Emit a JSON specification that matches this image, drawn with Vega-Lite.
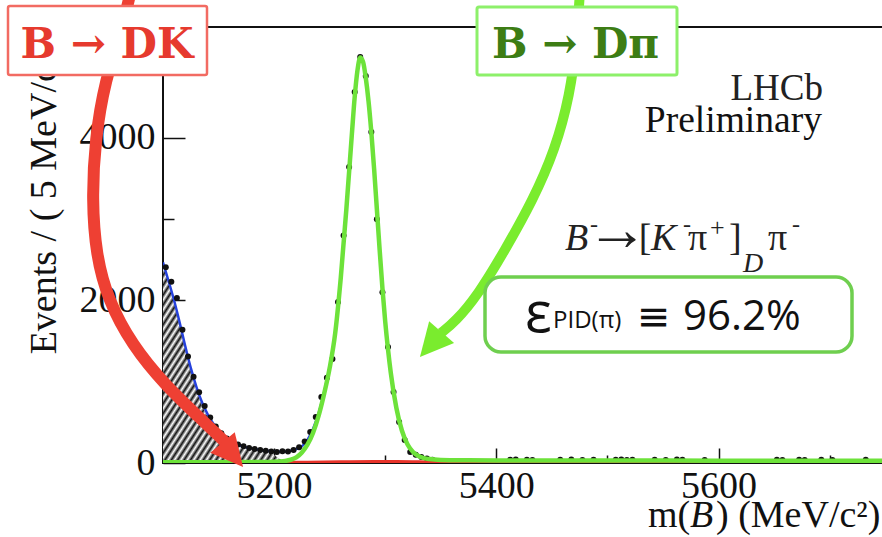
{
"$schema": "https://vega.github.io/schema/vega-lite/v6.json",
"width": 720, "height": 436,
"autosize": "none",
"padding": {"left": 163, "top": 27, "right": 0, "bottom": 74},
"background": "white",
"config": {"view": {"stroke": "#111", "strokeWidth": 2}, "font": "Liberation Serif"},
"datasets": {
"pts": [
{"m":5102.5,"v":2410},{"m":5107.5,"v":2230},{"m":5112.5,"v":2030},{"m":5117.5,"v":1640},{"m":5122.5,"v":1310},{"m":5127.5,"v":1060},{"m":5132.5,"v":870},{"m":5137.5,"v":700},{"m":5142.5,"v":560},{"m":5147.5,"v":450},{"m":5152.5,"v":365},{"m":5157.5,"v":300},{"m":5162.5,"v":255},{"m":5167.5,"v":228},{"m":5172.5,"v":205},{"m":5177.5,"v":185},{"m":5182.5,"v":172},{"m":5187.5,"v":160},{"m":5192.5,"v":150},{"m":5197.5,"v":142},{"m":5202.5,"v":135},{"m":5207.5,"v":145},{"m":5212.5,"v":140},{"m":5217.5,"v":160},{"m":5222.5,"v":195},{"m":5227.5,"v":265},{"m":5232.5,"v":382},{"m":5237.5,"v":566},{"m":5242.5,"v":812},{"m":5247.5,"v":1050},{"m":5252.5,"v":1280},{"m":5257.5,"v":1982},{"m":5262.5,"v":2800},{"m":5267.5,"v":3643},{"m":5272.5,"v":4566},{"m":5277.5,"v":4997},{"m":5282.5,"v":4763},{"m":5287.5,"v":4074},{"m":5292.5,"v":3000},{"m":5297.5,"v":2100},{"m":5302.5,"v":1428},{"m":5307.5,"v":874},{"m":5312.5,"v":505},{"m":5317.5,"v":283},{"m":5322.5,"v":135},{"m":5327.5,"v":100},{"m":5332.5,"v":74},{"m":5337.5,"v":55},{"m":5342.5,"v":40},{"m":5347.5,"v":8},{"m":5352.5,"v":6},{"m":5357.5,"v":10},{"m":5362.5,"v":5},{"m":5367.5,"v":8},{"m":5372.5,"v":7},{"m":5377.5,"v":9},{"m":5382.5,"v":6},{"m":5387.5,"v":5},{"m":5392.5,"v":8},{"m":5397.5,"v":7},{"m":5402.5,"v":6},{"m":5407.5,"v":9},{"m":5412.5,"v":40},{"m":5417.5,"v":42},{"m":5422.5,"v":8},{"m":5427.5,"v":40},{"m":5432.5,"v":38},{"m":5437.5,"v":6},{"m":5442.5,"v":8},{"m":5447.5,"v":5},{"m":5452.5,"v":9},{"m":5457.5,"v":40},{"m":5462.5,"v":7},{"m":5467.5,"v":42},{"m":5472.5,"v":8},{"m":5477.5,"v":38},{"m":5482.5,"v":6},{"m":5487.5,"v":40},{"m":5492.5,"v":7},{"m":5497.5,"v":8},{"m":5502.5,"v":7},{"m":5507.5,"v":40},{"m":5512.5,"v":42},{"m":5517.5,"v":38},{"m":5522.5,"v":40},{"m":5527.5,"v":6},{"m":5532.5,"v":8},{"m":5537.5,"v":5},{"m":5542.5,"v":40},{"m":5547.5,"v":7},{"m":5552.5,"v":38},{"m":5557.5,"v":6},{"m":5562.5,"v":42},{"m":5567.5,"v":40},{"m":5572.5,"v":8},{"m":5577.5,"v":5},{"m":5582.5,"v":7},{"m":5587.5,"v":38},{"m":5592.5,"v":6},{"m":5597.5,"v":8},{"m":5602.5,"v":5},{"m":5607.5,"v":7},{"m":5612.5,"v":6},{"m":5617.5,"v":8},{"m":5622.5,"v":5},{"m":5627.5,"v":7},{"m":5632.5,"v":6},{"m":5637.5,"v":9},{"m":5642.5,"v":5},{"m":5647.5,"v":7},{"m":5652.5,"v":40},{"m":5657.5,"v":38},{"m":5662.5,"v":6},{"m":5667.5,"v":8},{"m":5672.5,"v":40},{"m":5677.5,"v":38},{"m":5682.5,"v":7},{"m":5687.5,"v":5},{"m":5692.5,"v":40},{"m":5697.5,"v":8},{"m":5702.5,"v":38},{"m":5707.5,"v":6},{"m":5712.5,"v":7},{"m":5717.5,"v":5},{"m":5722.5,"v":8},{"m":5727.5,"v":6},{"m":5732.5,"v":40},{"m":5737.5,"v":7},{"m":5742.5,"v":5}
],
"green": [
{"m":5100,"v":10},{"m":5150,"v":10},{"m":5190,"v":12},{"m":5200,"v":15},{"m":5205,"v":18},{"m":5210,"v":25},{"m":5215,"v":40},{"m":5220,"v":70},{"m":5225,"v":130},{"m":5230,"v":225},{"m":5235,"v":370},{"m":5240,"v":580},{"m":5245,"v":850},{"m":5250,"v":1170},{"m":5255,"v":1600},{"m":5260,"v":2280},{"m":5265,"v":3120},{"m":5270,"v":4050},{"m":5272.5,"v":4500},{"m":5275,"v":4830},{"m":5277.5,"v":4990},{"m":5280,"v":4940},{"m":5282.5,"v":4740},{"m":5285,"v":4450},{"m":5287.5,"v":4070},{"m":5290,"v":3620},{"m":5292.5,"v":3120},{"m":5295,"v":2620},{"m":5297.5,"v":2150},{"m":5300,"v":1740},{"m":5302.5,"v":1400},{"m":5305,"v":1110},{"m":5310,"v":680},{"m":5315,"v":400},{"m":5320,"v":230},{"m":5325,"v":135},{"m":5330,"v":85},{"m":5335,"v":60},{"m":5340,"v":48},{"m":5350,"v":38},{"m":5375,"v":34},{"m":5400,"v":32},{"m":5500,"v":30},{"m":5600,"v":29},{"m":5748,"v":28}
],
"blue": [
{"m":5100,"v":2470},{"m":5105,"v":2240},{"m":5110,"v":2000},{"m":5115,"v":1730},{"m":5120,"v":1440},{"m":5125,"v":1170},{"m":5130,"v":940},{"m":5135,"v":750},{"m":5140,"v":605},{"m":5145,"v":490},{"m":5150,"v":400},{"m":5155,"v":330},{"m":5160,"v":278},{"m":5165,"v":240},{"m":5170,"v":212},{"m":5175,"v":192},{"m":5180,"v":177},{"m":5185,"v":165},{"m":5190,"v":155},{"m":5195,"v":147},{"m":5200,"v":142},{"m":5205,"v":140},{"m":5210,"v":140},{"m":5215,"v":150},{"m":5220,"v":172},{"m":5225,"v":205},{"m":5230,"v":285},{"m":5235,"v":420},{"m":5240,"v":610},{"m":5245,"v":870},{"m":5250,"v":1180}
],
"hatch": [
{"m":5100,"v":2430},{"m":5105,"v":2200},{"m":5110,"v":1960},{"m":5115,"v":1690},{"m":5120,"v":1400},{"m":5125,"v":1130},{"m":5130,"v":900},{"m":5135,"v":715},{"m":5140,"v":570},{"m":5145,"v":455},{"m":5150,"v":365},{"m":5155,"v":295},{"m":5160,"v":245},{"m":5165,"v":205},{"m":5170,"v":180},{"m":5175,"v":162},{"m":5180,"v":150},{"m":5185,"v":140},{"m":5190,"v":130},{"m":5195,"v":118},{"m":5200,"v":95},{"m":5205,"v":50},{"m":5210,"v":15},{"m":5215,"v":0}
],
"red": [
{"m":5100,"v":2},{"m":5150,"v":3},{"m":5200,"v":6},{"m":5230,"v":10},{"m":5260,"v":14},{"m":5290,"v":17},{"m":5310,"v":17},{"m":5330,"v":14},{"m":5350,"v":10},{"m":5370,"v":6},{"m":5400,"v":3},{"m":5450,"v":1},{"m":5748,"v":0}
],
"redArrow": [
{"i":0,"m":5071.2,"v":5821},{"i":1,"m":5063.1,"v":5329},{"i":2,"m":5047.8,"v":4714},{"i":3,"m":5038.8,"v":3975},{"i":4,"m":5036.1,"v":3237},{"i":5,"m":5039.7,"v":2560},{"i":6,"m":5050.5,"v":2006},{"i":7,"m":5072.1,"v":1452},{"i":8,"m":5101.8,"v":960},{"i":9,"m":5133.3,"v":554},{"i":10,"m":5155.8,"v":258}
],
"greenArrow": [
{"i":0,"m":5475.3,"v":5821},{"i":1,"m":5472.6,"v":5206},{"i":2,"m":5466.3,"v":4529},{"i":3,"m":5452.8,"v":3852},{"i":4,"m":5433,"v":3237},{"i":5,"m":5407.8,"v":2621},{"i":6,"m":5383.5,"v":2068},{"i":7,"m":5362.8,"v":1735},{"i":8,"m":5350.2,"v":1600}
]
},
"layer": [
{"data": {"name": "hatch"},
 "mark": {"type": "area", "interpolate": "monotone", "clip": true,
  "fill": {"gradient": "linear", "x1": 0, "y1": 0, "x2": 1, "y2": 1, "stops": [
{"offset":0,"color":"#111"},{"offset":0.0125,"color":"#fff"},{"offset":0.025,"color":"#111"},{"offset":0.0375,"color":"#fff"},{"offset":0.05,"color":"#111"},{"offset":0.0625,"color":"#fff"},{"offset":0.075,"color":"#111"},{"offset":0.0875,"color":"#fff"},{"offset":0.1,"color":"#111"},{"offset":0.1125,"color":"#fff"},{"offset":0.125,"color":"#111"},{"offset":0.1375,"color":"#fff"},{"offset":0.15,"color":"#111"},{"offset":0.1625,"color":"#fff"},{"offset":0.175,"color":"#111"},{"offset":0.1875,"color":"#fff"},{"offset":0.2,"color":"#111"},{"offset":0.2125,"color":"#fff"},{"offset":0.225,"color":"#111"},{"offset":0.2375,"color":"#fff"},{"offset":0.25,"color":"#111"},{"offset":0.2625,"color":"#fff"},{"offset":0.275,"color":"#111"},{"offset":0.2875,"color":"#fff"},{"offset":0.3,"color":"#111"},{"offset":0.3125,"color":"#fff"},{"offset":0.325,"color":"#111"},{"offset":0.3375,"color":"#fff"},{"offset":0.35,"color":"#111"},{"offset":0.3625,"color":"#fff"},{"offset":0.375,"color":"#111"},{"offset":0.3875,"color":"#fff"},{"offset":0.4,"color":"#111"},{"offset":0.4125,"color":"#fff"},{"offset":0.425,"color":"#111"},{"offset":0.4375,"color":"#fff"},{"offset":0.45,"color":"#111"},{"offset":0.4625,"color":"#fff"},{"offset":0.475,"color":"#111"},{"offset":0.4875,"color":"#fff"},{"offset":0.5,"color":"#111"},{"offset":0.5125,"color":"#fff"},{"offset":0.525,"color":"#111"},{"offset":0.5375,"color":"#fff"},{"offset":0.55,"color":"#111"},{"offset":0.5625,"color":"#fff"},{"offset":0.575,"color":"#111"},{"offset":0.5875,"color":"#fff"},{"offset":0.6,"color":"#111"},{"offset":0.6125,"color":"#fff"},{"offset":0.625,"color":"#111"},{"offset":0.6375,"color":"#fff"},{"offset":0.65,"color":"#111"},{"offset":0.6625,"color":"#fff"},{"offset":0.675,"color":"#111"},{"offset":0.6875,"color":"#fff"},{"offset":0.7,"color":"#111"},{"offset":0.7125,"color":"#fff"},{"offset":0.725,"color":"#111"},{"offset":0.7375,"color":"#fff"},{"offset":0.75,"color":"#111"},{"offset":0.7625,"color":"#fff"},{"offset":0.775,"color":"#111"},{"offset":0.7875,"color":"#fff"},{"offset":0.8,"color":"#111"},{"offset":0.8125,"color":"#fff"},{"offset":0.825,"color":"#111"},{"offset":0.8375,"color":"#fff"},{"offset":0.85,"color":"#111"},{"offset":0.8625,"color":"#fff"},{"offset":0.875,"color":"#111"},{"offset":0.8875,"color":"#fff"},{"offset":0.9,"color":"#111"},{"offset":0.9125,"color":"#fff"},{"offset":0.925,"color":"#111"},{"offset":0.9375,"color":"#fff"},{"offset":0.95,"color":"#111"},{"offset":0.9625,"color":"#fff"},{"offset":0.975,"color":"#111"},{"offset":0.9875,"color":"#fff"},{"offset":1,"color":"#111"}
  ]}},
 "encoding": {
  "x": {"field": "m", "type": "quantitative",
   "scale": {"domain": [5100, 5748], "nice": false, "zero": false},
   "axis": {"values": [5100,5200,5300,5400,5500,5600,5700], "domain": false, "grid": false, "title": null, "zindex": 0,
    "labelExpr": "datum.value % 200 === 0 ? datum.label : ''", "format": "d",
    "tickSize": {"condition": {"test": "datum.value % 200 === 0", "value": -15}, "value": -8},
    "tickColor": "#111", "tickWidth": 1.5, "labelFont": "Liberation Serif", "labelFontSize": 38,
    "labelColor": "#111", "labelPadding": 19, "labelFlush": false, "labelOverlap": false}},
  "y": {"field": "v", "type": "quantitative",
   "scale": {"domain": [0, 5366], "nice": false, "zero": false},
   "axis": {"values": [0,1000,2000,3000,4000,5000], "domain": false, "grid": false, "title": null, "zindex": 0,
    "labelExpr": "datum.value % 2000 === 0 ? datum.label : ''", "format": "d",
    "tickSize": {"condition": {"test": "datum.value % 2000 === 0", "value": -22}, "value": -11},
    "tickColor": "#111", "tickWidth": 1.5, "labelFont": "Liberation Serif", "labelFontSize": 38,
    "labelColor": "#111", "labelPadding": 30, "labelOverlap": false}}
 }},
{"data": {"name": "blue"},
 "mark": {"type": "line", "stroke": "#2541dc", "strokeWidth": 2.5, "interpolate": "monotone", "clip": true},
 "encoding": {"x": {"field": "m", "type": "quantitative"}, "y": {"field": "v", "type": "quantitative"}}},
{"data": {"name": "pts"},
 "mark": {"type": "circle", "size": 36, "color": "#111", "opacity": 1, "clip": true},
 "encoding": {"x": {"field": "m", "type": "quantitative"}, "y": {"field": "v", "type": "quantitative"}}},
{"data": {"name": "red"},
 "mark": {"type": "line", "stroke": "#e8332a", "strokeWidth": 3, "interpolate": "monotone", "clip": true},
 "encoding": {"x": {"field": "m", "type": "quantitative"}, "y": {"field": "v", "type": "quantitative"}}},
{"data": {"name": "green"},
 "mark": {"type": "line", "stroke": "#6de23a", "strokeWidth": 4.5, "interpolate": "monotone", "clip": true},
 "encoding": {"x": {"field": "m", "type": "quantitative"}, "y": {"field": "v", "type": "quantitative"}}},
{"data": {"values": [{}]},
 "mark": {"type": "text", "text": "Events / ( 5 MeV/c² )", "font": "Liberation Serif", "fontSize": 38, "color": "#111", "angle": 270, "align": "center", "baseline": "middle"},
 "encoding": {"x": {"datum": 4993.8}, "y": {"datum": 3323}}},
{"data": {"name": "redArrow"},
 "mark": {"type": "line", "stroke": "#ee4033", "strokeWidth": 12, "interpolate": "basis", "strokeCap": "butt", "clip": false},
 "encoding": {"x": {"field": "m", "type": "quantitative"}, "y": {"field": "v", "type": "quantitative"}, "order": {"field": "i", "type": "quantitative"}}},
{"data": {"values": [{}]},
 "mark": {"type": "point", "shape": "M0,-1L1,1L-1,1Z", "filled": true, "color": "#ee4033", "size": 1024, "angle": 140, "opacity": 1, "clip": false},
 "encoding": {"x": {"datum": 5162.8}, "y": {"datum": 102}}},
{"data": {"name": "greenArrow"},
 "mark": {"type": "line", "stroke": "#7aec2e", "strokeWidth": 10, "interpolate": "basis", "strokeCap": "butt", "clip": false},
 "encoding": {"x": {"field": "m", "type": "quantitative"}, "y": {"field": "v", "type": "quantitative"}, "order": {"field": "i", "type": "quantitative"}}},
{"data": {"values": [{}]},
 "mark": {"type": "point", "shape": "M0,-1L1,1L-1,1Z", "filled": true, "color": "#7aec2e", "size": 1089, "angle": 221, "opacity": 1, "clip": false},
 "encoding": {"x": {"datum": 5341}, "y": {"datum": 1458}}},
{"data": {"values": [{}]},
 "mark": {"type": "rect", "fill": "white", "stroke": "#f26b62", "strokeWidth": 2.5, "cornerRadius": 2, "clip": false},
 "encoding": {"x": {"datum": 4960.5}, "x2": {"datum": 5139.6}, "y": {"datum": 5624}, "y2": {"datum": 4775}}},
{"data": {"values": [{}]},
 "mark": {"type": "text", "text": "B → DK", "font": "DejaVu Serif", "fontWeight": "bold", "fontSize": 42, "color": "#e63a2e", "align": "center", "baseline": "alphabetic", "clip": false},
 "encoding": {"x": {"datum": 5049.6}, "y": {"datum": 4984}}},
{"data": {"values": [{}]},
 "mark": {"type": "rect", "fill": "white", "stroke": "#8df06a", "strokeWidth": 3, "cornerRadius": 2, "clip": false},
 "encoding": {"x": {"datum": 5382.6}, "x2": {"datum": 5562.6}, "y": {"datum": 5612}, "y2": {"datum": 4775}}},
{"data": {"values": [{}]},
 "mark": {"type": "text", "text": "B → Dπ", "font": "DejaVu Serif", "fontWeight": "bold", "fontSize": 42, "color": "#3d7d14", "align": "center", "baseline": "alphabetic", "clip": false},
 "encoding": {"x": {"datum": 5471.3}, "y": {"datum": 4984}}},
{"data": {"values": [{}]},
 "mark": {"type": "text", "text": "LHCb", "font": "Liberation Serif", "fontSize": 37, "color": "#222", "align": "right", "baseline": "alphabetic"},
 "encoding": {"x": {"datum": 5694}, "y": {"datum": 4467}}},
{"data": {"values": [{}]},
 "mark": {"type": "text", "text": "Preliminary", "font": "Liberation Serif", "fontSize": 37.5, "color": "#111", "align": "right", "baseline": "alphabetic"},
 "encoding": {"x": {"datum": 5693}, "y": {"datum": 4074}}},
{"data": {"values": [{}]},
 "mark": {"type": "text", "text": "B", "font": "Liberation Serif", "fontStyle": "italic", "fontSize": 38, "color": "#222", "align": "left", "baseline": "alphabetic"},
 "encoding": {"x": {"datum": 5461.8}, "y": {"datum": 2621}}},
{"data": {"values": [{}]},
 "mark": {"type": "text", "text": "-", "font": "Liberation Serif", "fontSize": 24, "color": "#222", "align": "left", "baseline": "alphabetic"},
 "encoding": {"x": {"datum": 5484.3}, "y": {"datum": 2843}}},
{"data": {"values": [{}]},
 "mark": {"type": "text", "text": "→", "font": "Liberation Serif", "fontSize": 62, "color": "#222", "align": "left", "baseline": "alphabetic"},
 "encoding": {"x": {"datum": 5480.7}, "y": {"datum": 2621}}},
{"data": {"values": [{}]},
 "mark": {"type": "text", "text": "[", "font": "Liberation Serif", "fontSize": 38, "color": "#222", "align": "left", "baseline": "alphabetic"},
 "encoding": {"x": {"datum": 5528.1}, "y": {"datum": 2621}}},
{"data": {"values": [{}]},
 "mark": {"type": "text", "text": "K", "font": "Liberation Serif", "fontStyle": "italic", "fontSize": 38, "color": "#222", "align": "left", "baseline": "alphabetic"},
 "encoding": {"x": {"datum": 5539.2}, "y": {"datum": 2621}}},
{"data": {"values": [{}]},
 "mark": {"type": "text", "text": "-", "font": "Liberation Serif", "fontSize": 24, "color": "#222", "align": "left", "baseline": "alphabetic"},
 "encoding": {"x": {"datum": 5568}, "y": {"datum": 2843}}},
{"data": {"values": [{}]},
 "mark": {"type": "text", "text": "π", "font": "Liberation Serif", "fontSize": 38, "color": "#222", "align": "left", "baseline": "alphabetic"},
 "encoding": {"x": {"datum": 5572.5}, "y": {"datum": 2621}}},
{"data": {"values": [{}]},
 "mark": {"type": "text", "text": "+", "font": "Liberation Serif", "fontSize": 26, "color": "#222", "align": "left", "baseline": "alphabetic"},
 "encoding": {"x": {"datum": 5592.3}, "y": {"datum": 2794}}},
{"data": {"values": [{}]},
 "mark": {"type": "text", "text": "]", "font": "Liberation Serif", "fontSize": 38, "color": "#222", "align": "left", "baseline": "alphabetic"},
 "encoding": {"x": {"datum": 5609.4}, "y": {"datum": 2621}}},
{"data": {"values": [{}]},
 "mark": {"type": "text", "text": "D", "font": "Liberation Serif", "fontStyle": "italic", "fontSize": 28, "color": "#222", "align": "left", "baseline": "alphabetic"},
 "encoding": {"x": {"datum": 5622}, "y": {"datum": 2351}}},
{"data": {"values": [{}]},
 "mark": {"type": "text", "text": "π", "font": "Liberation Serif", "fontSize": 38, "color": "#222", "align": "left", "baseline": "alphabetic"},
 "encoding": {"x": {"datum": 5644.5}, "y": {"datum": 2621}}},
{"data": {"values": [{}]},
 "mark": {"type": "text", "text": "-", "font": "Liberation Serif", "fontSize": 24, "color": "#222", "align": "left", "baseline": "alphabetic"},
 "encoding": {"x": {"datum": 5666.1}, "y": {"datum": 2843}}},
{"data": {"values": [{}]},
 "mark": {"type": "rect", "fill": "white", "stroke": "#6fcf4f", "strokeWidth": 3.5, "cornerRadius": 16, "clip": false},
 "encoding": {"x": {"datum": 5389.8}, "x2": {"datum": 5720.1}, "y": {"datum": 2289}, "y2": {"datum": 1366}}},
{"data": {"values": [{}]},
 "mark": {"type": "text", "text": "ε", "font": "Open Sans", "fontSize": 56, "color": "#111", "align": "left", "baseline": "alphabetic"},
 "encoding": {"x": {"datum": 5425.8}, "y": {"datum": 1612}}},
{"data": {"values": [{}]},
 "mark": {"type": "text", "text": "PID(π)", "font": "Open Sans", "fontSize": 24, "color": "#111", "align": "left", "baseline": "alphabetic"},
 "encoding": {"x": {"datum": 5451}, "y": {"datum": 1661}}},
{"data": {"values": [{}]},
 "mark": {"type": "text", "text": "≡", "font": "DejaVu Sans", "fontSize": 40, "color": "#111", "align": "left", "baseline": "alphabetic"},
 "encoding": {"x": {"datum": 5526.6}, "y": {"datum": 1637}}},
{"data": {"values": [{}]},
 "mark": {"type": "text", "text": "96.2%", "font": "Open Sans", "fontSize": 42, "color": "#111", "align": "left", "baseline": "alphabetic"},
 "encoding": {"x": {"datum": 5568}, "y": {"datum": 1637}}},
{"data": {"values": [{}]},
 "mark": {"type": "text", "text": "m(", "font": "Liberation Serif", "fontSize": 38, "color": "#111", "align": "left", "baseline": "alphabetic"},
 "encoding": {"x": {"datum": 5536.5}, "y": {"datum": -788}}},
{"data": {"values": [{}]},
 "mark": {"type": "text", "text": "B", "font": "Liberation Serif", "fontStyle": "italic", "fontSize": 38, "color": "#111", "align": "left", "baseline": "alphabetic"},
 "encoding": {"x": {"datum": 5574.3}, "y": {"datum": -788}}},
{"data": {"values": [{}]},
 "mark": {"type": "text", "text": ") (MeV/c²)", "font": "Liberation Serif", "fontSize": 38, "color": "#111", "align": "left", "baseline": "alphabetic"},
 "encoding": {"x": {"datum": 5597.7}, "y": {"datum": -788}}}
]
}
